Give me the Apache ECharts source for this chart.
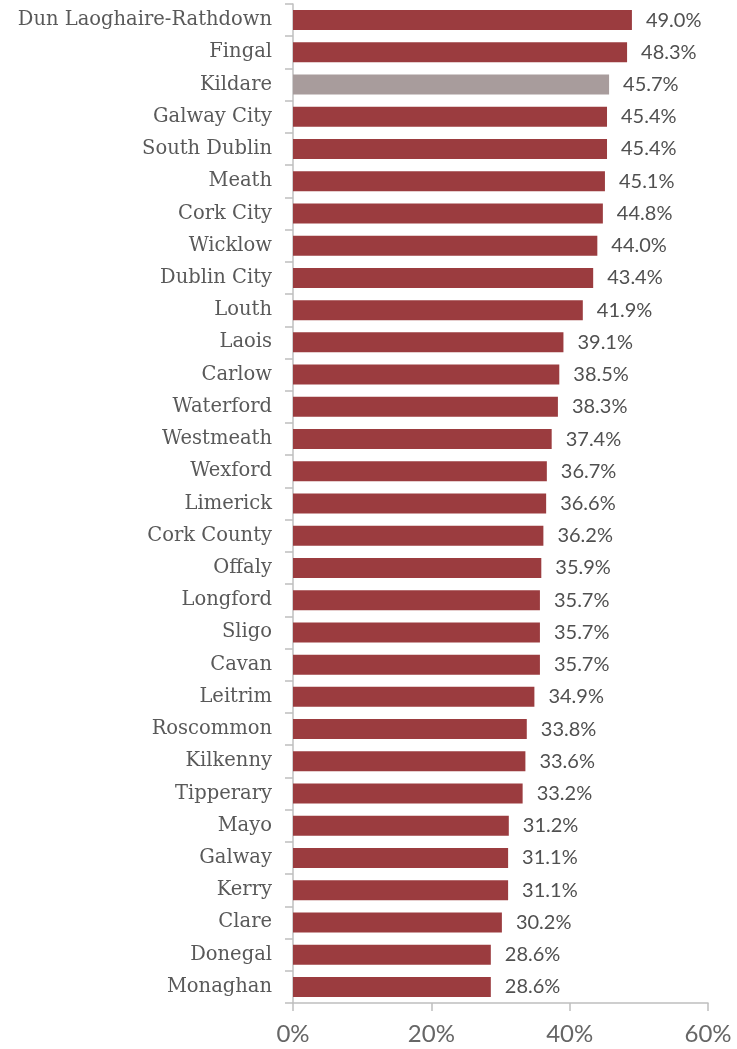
<!DOCTYPE html>
<html>
<head>
<meta charset="utf-8">
<script src="https://cdn.jsdelivr.net/npm/echarts@6/dist/echarts.min.js"></script>
<style>
  html, body { margin: 0; padding: 0; background: #ffffff; }
  #chart { width: 737px; height: 1049px; }
</style>
</head>
<body>
<div id="chart"></div>
<script>
// Local authorities, ordered from highest to lowest share
const counties = [
  'Dun Laoghaire-Rathdown', 'Fingal', 'Kildare', 'Galway City', 'South Dublin',
  'Meath', 'Cork City', 'Wicklow', 'Dublin City', 'Louth', 'Laois', 'Carlow',
  'Waterford', 'Westmeath', 'Wexford', 'Limerick', 'Cork County', 'Offaly',
  'Longford', 'Sligo', 'Cavan', 'Leitrim', 'Roscommon', 'Kilkenny', 'Tipperary',
  'Mayo', 'Galway', 'Kerry', 'Clare', 'Donegal', 'Monaghan'
];

// Share (%) for each authority
const shares = [
  49.0, 48.3, 45.7, 45.4, 45.4, 45.1, 44.8, 44.0, 43.4, 41.9, 39.1, 38.5,
  38.3, 37.4, 36.7, 36.6, 36.2, 35.9, 35.7, 35.7, 35.7, 34.9, 33.8, 33.6, 33.2,
  31.2, 31.1, 31.1, 30.2, 28.6, 28.6
];

// Authority drawn in the highlight colour
const highlighted = 'Kildare';

// X axis tick values (%)
const xTicks = [0, 20, 40, 60];

const barRed = '#9B3C3F';
const barGrey = '#A89C9C';
const axisGrey = '#BFBFBF';

const chart = echarts.init(document.getElementById('chart'), null, { renderer: 'canvas' });

chart.setOption({
  animation: false,
  backgroundColor: '#ffffff',
  grid: { left: 293, right: 29, top: 4, bottom: 46, containLabel: false },
  xAxis: {
    type: 'value',
    min: xTicks[0],
    max: xTicks[xTicks.length - 1],
    interval: xTicks[1] - xTicks[0],
    axisLine: { show: true, lineStyle: { color: axisGrey, width: 1.5 } },
    axisTick: { show: true, length: 8, lineStyle: { color: axisGrey, width: 1.5 } },
    splitLine: { show: false },
    axisLabel: {
      formatter: v => v + '%',
      fontFamily: 'Lato',
      fontSize: 24,
      color: '#666666',
      margin: 19
    }
  },
  yAxis: {
    type: 'category',
    inverse: true,
    data: counties,
    axisLine: { show: true, lineStyle: { color: axisGrey, width: 1.5 } },
    axisTick: { show: true, length: 8, lineStyle: { color: axisGrey, width: 1.5 } },
    axisLabel: {
      fontFamily: 'DejaVu Serif',
      fontSize: 19.5,
      color: '#595959',
      margin: 21,
      padding: [6, 0, 0, 0]
    }
  },
  series: [{
    type: 'bar',
    barWidth: 20,
    data: shares.map((v, i) => ({
      value: v,
      itemStyle: { color: counties[i] === highlighted ? barGrey : barRed }
    })),
    label: {
      show: true,
      position: 'right',
      distance: 14,
      formatter: p => p.value.toFixed(1) + '%',
      fontFamily: 'Lato',
      fontSize: 20,
      color: '#505050',
      padding: [4, 0, 0, 0]
    }
  }]
});
</script>
</body>
</html>
